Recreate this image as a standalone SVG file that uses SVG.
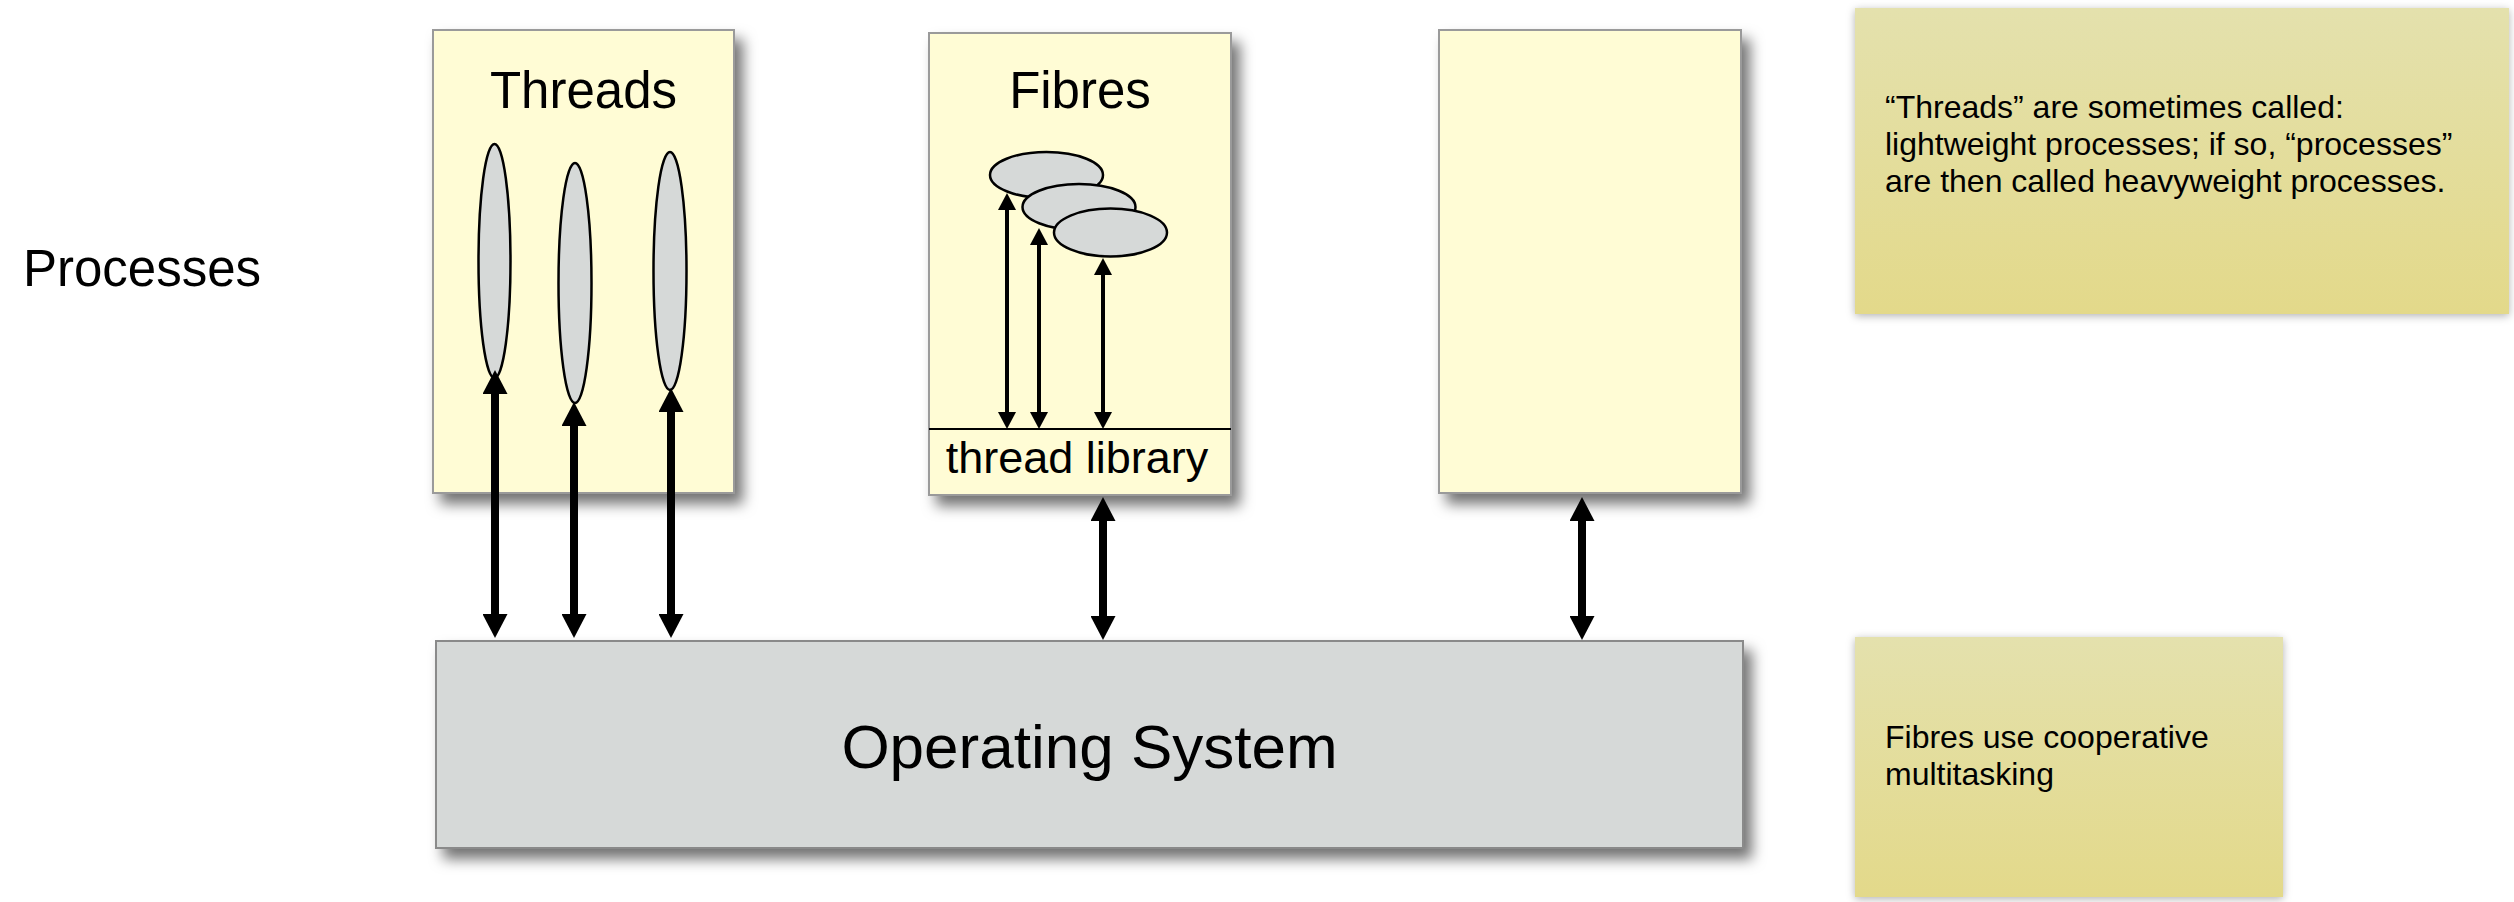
<svg xmlns="http://www.w3.org/2000/svg" width="2514" height="902" viewBox="0 0 2514 902">
  <defs>
    <style>
      text { font-family: "Liberation Sans", Arial, sans-serif; fill: #000; }
      .proc { fill: #fffcd5; stroke: #9a9a9a; stroke-width: 2; }
      .os { fill: #d6d9d8; stroke: #8a8a8a; stroke-width: 2; }
      .blob { fill: #d6d9d8; stroke: #000; stroke-width: 2.5; }
      .note { fill: url(#noteGrad); }
      .big { stroke: #000; stroke-width: 8; fill: none; }
      .thin { stroke: #000; stroke-width: 4; fill: none; }
      .title { font-size: 51px; }
      .notetext { font-size: 32px; }
    </style>
    <linearGradient id="noteGrad" x1="0" y1="0" x2="0" y2="1">
      <stop offset="0" stop-color="#e4e1ad"/>
      <stop offset="1" stop-color="#e3d98a"/>
    </linearGradient>
    <filter id="shadow" x="-10%" y="-10%" width="130%" height="130%">
      <feDropShadow dx="8" dy="10" stdDeviation="7" flood-color="#000" flood-opacity="0.55"/>
    </filter>
    <filter id="noteShadow" x="-10%" y="-10%" width="120%" height="120%">
      <feDropShadow dx="0" dy="2" stdDeviation="4" flood-color="#000" flood-opacity="0.3"/>
    </filter>
    <marker id="bigHead" viewBox="0 0 24 25" markerWidth="24" markerHeight="25" refX="4" refY="12.5" orient="auto-start-reverse" markerUnits="userSpaceOnUse">
      <path d="M0,0 L24,12.5 L0,25 z" fill="#000"/>
    </marker>
    <marker id="thinHead" viewBox="0 0 17 18" markerWidth="17" markerHeight="18" refX="3" refY="9" orient="auto-start-reverse" markerUnits="userSpaceOnUse">
      <path d="M0,0 L17,9 L0,18 z" fill="#000"/>
    </marker>
  </defs>

  <rect width="2514" height="902" fill="#ffffff"/>

  <g id="processes-label">
    <text x="23" y="286" class="title">Processes</text>
  </g>

  <g id="threads">
    <rect class="proc" x="433" y="30" width="301" height="463" filter="url(#shadow)"/>
    <text x="583.5" y="108" class="title" text-anchor="middle">Threads</text>
    <ellipse class="blob" cx="494.5" cy="261" rx="16" ry="117"/>
    <ellipse class="blob" cx="575" cy="283" rx="16.5" ry="120"/>
    <ellipse class="blob" cx="670" cy="271" rx="16.5" ry="119"/>
  </g>

  <g id="fibres">
    <rect class="proc" x="929" y="33" width="302" height="462" filter="url(#shadow)"/>
    <text x="1080" y="108" class="title" text-anchor="middle">Fibres</text>
    <ellipse class="blob" cx="1046.5" cy="175" rx="56.5" ry="23"/>
    <ellipse class="blob" cx="1079" cy="207" rx="56.5" ry="23"/>
    <ellipse class="blob" cx="1110.5" cy="232.5" rx="56.5" ry="24"/>
    <line x1="929" y1="429" x2="1231" y2="429" stroke="#000" stroke-width="2"/>
    <text x="1077" y="473" font-size="45" text-anchor="middle">thread library</text>
  </g>

  <g id="process3">
    <rect class="proc" x="1439" y="30" width="302" height="463" filter="url(#shadow)"/>
  </g>

  <g id="os">
    <rect class="os" x="436" y="641" width="1307" height="207" filter="url(#shadow)"/>
    <text x="1089.5" y="768" font-size="62" text-anchor="middle">Operating System</text>
  </g>

  <g id="note-threads">
    <rect class="note" x="1855" y="8" width="654" height="306" filter="url(#noteShadow)"/>
    <text class="notetext" x="1885" y="118">“Threads” are sometimes called:</text>
    <text class="notetext" x="1885" y="155">lightweight processes; if so, “processes”</text>
    <text class="notetext" x="1885" y="192">are then called heavyweight processes.</text>
  </g>

  <g id="note-fibres">
    <rect class="note" x="1855" y="637" width="428" height="260" filter="url(#noteShadow)"/>
    <text class="notetext" x="1885" y="748">Fibres use cooperative</text>
    <text class="notetext" x="1885" y="785">multitasking</text>
  </g>

  <g id="connectors">
    <line class="big" x1="495" y1="390" x2="495" y2="618" marker-start="url(#bigHead)" marker-end="url(#bigHead)"/>
    <line class="big" x1="574" y1="422" x2="574" y2="618" marker-start="url(#bigHead)" marker-end="url(#bigHead)"/>
    <line class="big" x1="671" y1="408" x2="671" y2="618" marker-start="url(#bigHead)" marker-end="url(#bigHead)"/>
    <line class="big" x1="1103" y1="517" x2="1103" y2="620" marker-start="url(#bigHead)" marker-end="url(#bigHead)"/>
    <line class="big" x1="1582" y1="517" x2="1582" y2="620" marker-start="url(#bigHead)" marker-end="url(#bigHead)"/>
    <line class="thin" x1="1007" y1="207" x2="1007" y2="415" marker-start="url(#thinHead)" marker-end="url(#thinHead)"/>
    <line class="thin" x1="1039" y1="242" x2="1039" y2="415" marker-start="url(#thinHead)" marker-end="url(#thinHead)"/>
    <line class="thin" x1="1103" y1="272" x2="1103" y2="415" marker-start="url(#thinHead)" marker-end="url(#thinHead)"/>
  </g>
</svg>
